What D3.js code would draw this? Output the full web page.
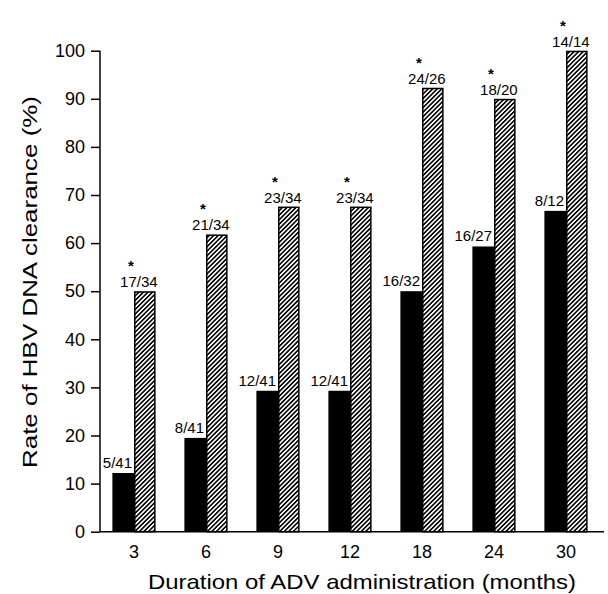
<!DOCTYPE html>
<html>
<head>
<meta charset="utf-8">
<script src="https://cdn.jsdelivr.net/npm/d3@7"></script>
<style>
  html, body { margin: 0; padding: 0; background: #fff; }
  svg { display: block; }
  text { font-family: "Liberation Sans", Arial, Helvetica, sans-serif; fill: #000; }
</style>
</head>
<body>
<svg id="chart" width="608" height="594"></svg>
<script>
// ---- data ----
const categories = ["3", "6", "9", "12", "18", "24", "30"];
const advValues = [12.2, 19.5, 29.3, 29.3, 50.0, 59.3, 66.7];
const comboValues = [50.0, 61.8, 67.6, 67.6, 92.3, 90.0, 100.0];
const advLabels = ["5/41", "8/41", "12/41", "12/41", "16/32", "16/27", "8/12"];
const comboLabels = ["17/34", "21/34", "23/34", "23/34", "24/26", "18/20", "14/14"];
const significant = [true, true, true, true, true, true, true];
const yTickValues = [0, 10, 20, 30, 40, 50, 60, 70, 80, 90, 100];
const xTitle = "Duration of ADV administration (months)";
const yTitle = "Rate of HBV DNA clearance (%)";

// ---- layout ----
const svg = d3.select("#chart");
const axisX = 100, plotTop = 50.7, plotBottom = 531.7, axisRight = 604;

const x = d3.scaleBand().domain(categories).range([98, 602])
  .paddingInner(0.4).paddingOuter(0.2);
const y = d3.scaleLinear().domain([0, 100]).range([plotBottom, plotTop]);
const half = x.bandwidth() / 2;

// hatch pattern
const defs = svg.append("defs");
const pat = defs.append("pattern").attr("id", "hatch")
  .attr("patternUnits", "userSpaceOnUse")
  .attr("width", 3.2).attr("height", 3.2)
  .attr("patternTransform", "rotate(45)");
pat.append("rect").attr("width", 3.2).attr("height", 3.2).attr("fill", "#fff");
pat.append("line").attr("x1", 0.8).attr("y1", 0).attr("x2", 0.8).attr("y2", 3.2)
  .attr("stroke", "#000").attr("stroke-width", 1.6);

const data = categories.map((c, i) => ({
  c, adv: advValues[i], combo: comboValues[i],
  advLabel: advLabels[i], comboLabel: comboLabels[i], sig: significant[i]
}));

// bars
const g = svg.append("g");
g.selectAll("rect.adv").data(data).join("rect").attr("class", "adv")
  .attr("x", d => x(d.c)).attr("width", half)
  .attr("y", d => y(d.adv)).attr("height", d => y(0) - y(d.adv))
  .attr("fill", "#000");
g.selectAll("rect.combo").data(data).join("rect").attr("class", "combo")
  .attr("x", d => x(d.c) + half + 0.75).attr("width", half - 1.5)
  .attr("y", d => y(d.combo) + 0.75).attr("height", d => y(0) - y(d.combo) - 0.75)
  .attr("fill", "url(#hatch)").attr("stroke", "#000").attr("stroke-width", 1.5);

// bar labels
g.selectAll("text.advl").data(data).join("text").attr("class", "advl")
  .attr("x", d => x(d.c) + half - 2).attr("y", d => y(d.adv) - 5)
  .attr("text-anchor", "end").attr("font-size", 15)
  .text(d => d.advLabel);
g.selectAll("text.combol").data(data).join("text").attr("class", "combol")
  .attr("x", d => x(d.c) + 2 * half + 2).attr("y", d => y(d.combo) - 4)
  .attr("text-anchor", "end").attr("font-size", 15)
  .text(d => d.comboLabel);
g.selectAll("text.star").data(data.filter(d => d.sig)).join("text").attr("class", "star")
  .attr("x", d => x(d.c) + 1.5 * half - 14).attr("y", d => y(d.combo) - 20)
  .attr("text-anchor", "middle").attr("font-size", 15).attr("font-weight", "bold")
  .text("*");

// y axis
const yAxis = d3.axisLeft(y).tickValues(yTickValues).tickSize(9).tickPadding(6);
const ya = svg.append("g").attr("transform", `translate(${axisX},0)`).call(yAxis);
ya.select(".domain").remove();
ya.append("line").attr("x1", 0).attr("x2", 0).attr("y1", plotTop).attr("y2", plotBottom)
  .attr("stroke", "#000").attr("stroke-width", 1.5);
ya.selectAll(".tick line").attr("stroke", "#000").attr("stroke-width", 1.5);
ya.selectAll(".tick text").attr("font-size", 18).attr("fill", "#000")
  .style("font-family", '"Liberation Sans", Arial, sans-serif');

// x axis
const xAxis = d3.axisBottom(x).tickSize(0).tickPadding(14);
const xa = svg.append("g").attr("transform", `translate(0,${plotBottom})`).call(xAxis);
xa.select(".domain").remove();
xa.append("line").attr("x1", axisX).attr("x2", axisRight).attr("y1", 0).attr("y2", 0)
  .attr("stroke", "#000").attr("stroke-width", 1.5);
xa.selectAll(".tick text").attr("font-size", 18).attr("fill", "#000")
  .style("font-family", '"Liberation Sans", Arial, sans-serif');

// titles
svg.append("text").attr("x", 362).attr("y", 589)
  .attr("text-anchor", "middle").attr("font-size", 21)
  .attr("textLength", 428).attr("lengthAdjust", "spacingAndGlyphs")
  .text(xTitle);
svg.append("text").attr("transform", "translate(37,282) rotate(-90)")
  .attr("text-anchor", "middle").attr("font-size", 21)
  .attr("textLength", 372).attr("lengthAdjust", "spacingAndGlyphs")
  .text(yTitle);
</script>
</body>
</html>
